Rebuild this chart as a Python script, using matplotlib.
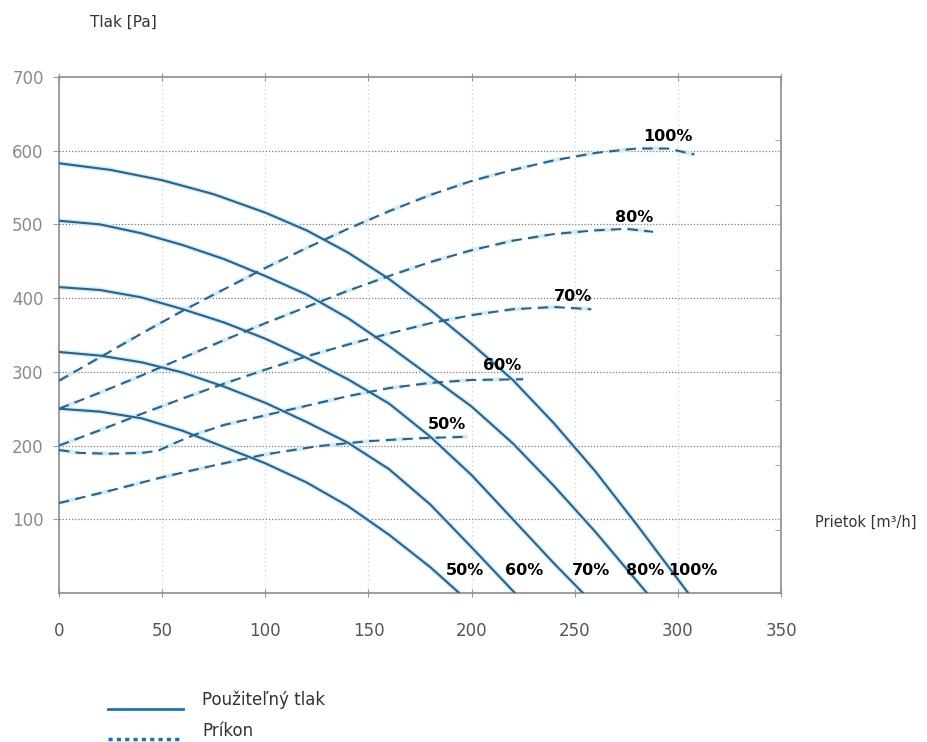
import numpy as np
import matplotlib
matplotlib.use("Agg")
import matplotlib.pyplot as plt
from matplotlib.lines import Line2D

# Použiteľný tlak (plné čiary) - prietok [m3/h] a tlak [Pa]
tlak_x = {
    "50%": [0, 20, 40, 60, 80, 100, 120, 140, 160, 180, 194],
    "60%": [0, 20, 40, 60, 80, 100, 120, 140, 160, 180, 200, 221],
    "70%": [0, 20, 40, 60, 80, 100, 120, 140, 160, 180, 200, 220, 240, 254],
    "80%": [0, 20, 40, 60, 80, 100, 120, 140, 160, 180, 200, 220, 240, 260, 285],
    "100%": [0, 25, 50, 75, 100, 120, 140, 160, 180, 200, 220, 240, 260, 280, 305],
}
tlak_y = {
    "50%": [250, 246, 237, 220, 198, 176, 150, 118, 79, 35, 0],
    "60%": [327, 322, 313, 299, 280, 258, 232, 204, 168, 120, 62, 0],
    "70%": [415, 411, 401, 385, 367, 345, 319, 290, 257, 212, 160, 100, 40, 0],
    "80%": [505, 500, 488, 472, 453, 430, 405, 373, 335, 294, 253, 203, 145, 83, 0],
    "100%": [583, 574, 560, 541, 516, 492, 462, 426, 384, 338, 289, 230, 165, 93, 0],
}

# Príkon (prerušované čiary)
prikon_x = {
    "50%": [0, 25, 50, 75, 100, 125, 150, 175, 198],
    "60%": [0, 10, 25, 40, 48, 55, 65, 80, 100, 120, 140, 160, 180, 200, 225],
    "70%": [0, 20, 40, 60, 80, 100, 120, 140, 160, 180, 200, 220, 240, 258],
    "80%": [0, 20, 40, 60, 80, 100, 120, 140, 160, 180, 200, 220, 240, 260, 275, 288],
    "100%": [0, 20, 40, 60, 80, 100, 120, 140, 160, 180, 200, 220, 240, 260, 280, 295, 308],
}
prikon_y = {
    "50%": [122, 139, 157, 173, 188, 199, 206, 210, 212],
    "60%": [194, 190, 189, 190, 193, 202, 214, 228, 241, 254, 267, 278, 285, 289, 290],
    "70%": [200, 221, 243, 264, 284, 303, 321, 337, 352, 366, 377, 385, 388, 385],
    "80%": [250, 272, 295, 319, 343, 366, 388, 410, 430, 449, 465, 478, 487, 492, 494, 490],
    "100%": [288, 320, 352, 383, 412, 441, 468, 494, 518, 540, 559, 574, 587, 597, 603, 603, 595],
}

x_ticks = [0, 50, 100, 150, 200, 250, 300, 350]
y_ticks = [100, 200, 300, 400, 500, 600, 700]

# popisky kriviek: (x, y)
top_labels = {"100%": (295, 619), "80%": (279, 509), "70%": (249, 402),
              "60%": (215, 309), "50%": (188, 228)}
bottom_labels = {"50%": 197, "60%": 225.6, "70%": 258, "80%": 284, "100%": 307.5}

line_color = "#27638f"
halo_color = "#d3ebf8"

fig = plt.figure(figsize=(9.28, 7.42), dpi=100)
ax = fig.add_axes([0.0636, 0.2008, 0.778, 0.6954])

for key in tlak_x:
    ax.plot(tlak_x[key], tlak_y[key], color=halo_color, lw=3.5, zorder=2,
            solid_capstyle="butt")
    ax.plot(tlak_x[key], tlak_y[key], color=line_color, lw=1.5, zorder=3)
for key in prikon_x:
    ax.plot(prikon_x[key], prikon_y[key], color=halo_color, lw=3.0, zorder=2,
            linestyle=(0, (5, 3)))
    ax.plot(prikon_x[key], prikon_y[key], color=line_color, lw=1.5, zorder=3,
            linestyle=(0, (5, 3)))

for key, (lx, ly) in top_labels.items():
    ax.text(lx, ly, key, ha="center", va="center", fontsize=11.5,
            fontweight="bold", color="black", zorder=5)
for key, lx in bottom_labels.items():
    ax.text(lx, 31, key, ha="center", va="center", fontsize=11.5,
            fontweight="bold", color="black", zorder=5)

ax.set_xlim(0, 350)
ax.set_ylim(0, 700)
ax.set_xticks(x_ticks)
ax.set_yticks(y_ticks)

# mriežka
for y in y_ticks[:-1]:
    ax.axhline(y, color="#7a7a7a", lw=0.9, linestyle=(0, (1, 1.5)), zorder=1)
for x in x_ticks[1:-1]:
    ax.axvline(x, color="#cfcfcf", lw=0.9, linestyle=(0, (1, 2.5)), zorder=1)

for s in ax.spines.values():
    s.set_color("#8c8c8c")
    s.set_linewidth(1.2)

ax.tick_params(axis="x", direction="inout", length=6, color="#999999",
               top=True, pad=18, labelsize=12, labelcolor="#555555")
ax.tick_params(axis="y", direction="out", length=4, color="#999999",
               pad=7, labelsize=12, labelcolor="#8a8a8a")

# malé značky na pravej osi
ax2 = ax.twinx()
ax2.set_ylim(0, 700)
ax2.set_yticks(np.arange(86, 700, 88))
ax2.tick_params(axis="y", direction="in", length=4, color="#aaaaaa",
                labelright=False)
for s in ax2.spines.values():
    s.set_visible(False)

fig.text(90 / 928, 1 - 22 / 742, "Tlak [Pa]", fontsize=11, color="#333333",
         va="center", ha="left")
fig.text(815 / 928, 1 - 522 / 742, "Prietok [m³/h]", fontsize=10.5,
         color="#333333", va="center", ha="left")

# legenda
fig.add_artist(Line2D([108 / 928, 183 / 928], [1 - 709 / 742, 1 - 709 / 742],
                      color="#1a72b8", lw=2))
fig.add_artist(Line2D([108 / 928, 183 / 928], [1 - 739 / 742, 1 - 739 / 742],
                      color="#1a72b8", lw=2.5, linestyle=(0, (1.2, 1.2))))
fig.text(202 / 928, 1 - 700 / 742, "Použiteľný tlak", fontsize=12,
         color="#333333", va="center", ha="left")
fig.text(202 / 928, 1 - 731 / 742, "Príkon", fontsize=12,
         color="#333333", va="center", ha="left")

fig.savefig("out.png", dpi=100)
